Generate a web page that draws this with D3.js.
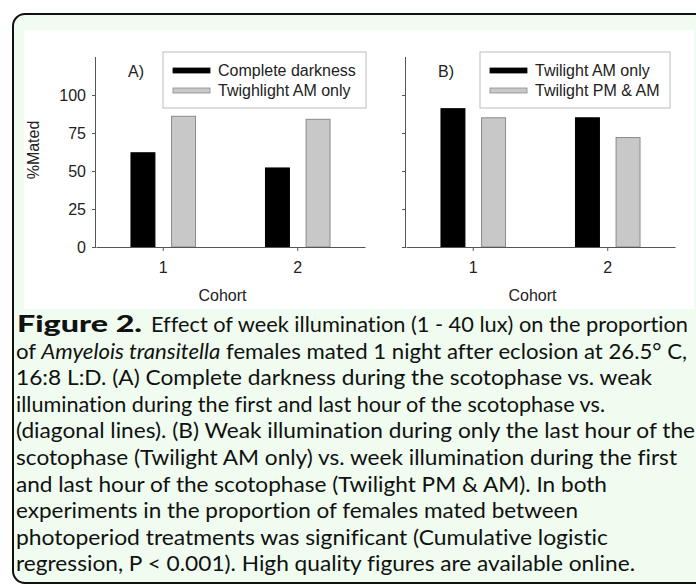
<!DOCTYPE html>
<html>
<head>
<meta charset="utf-8">
<script src="https://cdn.jsdelivr.net/npm/d3@7"></script>
<style>
  html, body { margin: 0; padding: 0; background: #fff; }
  svg { display: block; }
  .cap { font-variant-ligatures: none; }
</style>
</head>
<body>
<svg id="fig" width="696" height="585"></svg>
<script>
// cohorts on the x axis, %mated per treatment
const cohorts = ["1", "2"];
const yTicks = [0, 25, 50, 75, 100];

const seriesA = ["Complete darkness", "Twighlight AM only"];
const darkA = [62, 52];
const twilightA = [86, 84];

const seriesB = ["Twilight AM only", "Twilight PM & AM"];
const amOnlyB = [91, 85];
const pmAmB = [85, 72];

const captionLines = [
  [{ t: "Effect of week illumination (1 - 40 lux) on the proportion" }],
  [{ t: "of " }, { t: "Amyelois transitella", i: true }, { t: " females mated 1 night after eclosion at 26.5° C," }],
  [{ t: "16:8 L:D. (A) Complete darkness during the scotophase vs. weak" }],
  [{ t: "illumination during the first and last hour of the scotophase vs." }],
  [{ t: "(diagonal lines). (B) Weak illumination during only the last hour of the" }],
  [{ t: "scotophase (Twilight AM only) vs. week illumination during the first" }],
  [{ t: "and last hour of the scotophase (Twilight PM & AM). In both" }],
  [{ t: "experiments in the proportion of females mated between" }],
  [{ t: "photoperiod treatments was significant (Cumulative logistic" }],
  [{ t: "regression, P < 0.001). High quality figures are available online." }]
];
// right edge of each caption line in the original layout
const captionEnds = [688, 687, 652, 605, 695, 677, 607, 578, 608, 635];

const d3 = window.d3;
const svg = d3.select("#fig");
const chartFont = "Liberation Sans, Arial, sans-serif";

// page frame: pale green card with rounded black border, white figure area
svg.append("rect")
  .attr("x", 13).attr("y", 14).attr("width", 720).attr("height", 569)
  .attr("rx", 12)
  .attr("fill", "#effcef")
  .attr("stroke", "#111")
  .attr("stroke-width", 2);

svg.append("rect")
  .attr("x", 24).attr("y", 30).attr("width", 670).attr("height", 279)
  .attr("fill", "#fff");

const y = d3.scaleLinear().domain([0, 125]).range([247, 57]);

function drawPanel(opts) {
  const { left, right, label, series, vals, showTickLabels } = opts;
  const g = svg.append("g");

  const x0 = d3.scaleBand().domain(cohorts).range([left, right]);
  const bw = x0.bandwidth();
  const x1 = d3.scaleBand().domain([0, 1])
    .range([bw * 0.26, bw * 0.74])
    .paddingInner(0.41);

  const colors = ["#000", "#c8c8c8"];
  const strokes = ["#000", "#8a8a8a"];

  vals.forEach((arr, si) => {
    g.selectAll(null)
      .data(arr)
      .enter()
      .append("rect")
      .attr("x", (d, i) => x0(cohorts[i]) + x1(si))
      .attr("width", x1.bandwidth())
      .attr("y", d => y(d))
      .attr("height", d => y(0) - y(d))
      .attr("fill", colors[si])
      .attr("stroke", strokes[si])
      .attr("stroke-width", 1);
  });

  const ya = g.append("g")
    .attr("transform", `translate(${left},0)`)
    .call(d3.axisLeft(y).tickValues(yTicks).tickSize(4).tickPadding(6)
      .tickFormat(showTickLabels ? d3.format("d") : () => ""));
  ya.select(".domain").attr("d", `M-0.5,${y(125)}V${y(0)}`);

  g.append("g")
    .attr("transform", `translate(0,${y(0)})`)
    .call(d3.axisBottom(x0).tickSize(4).tickPadding(11).tickSizeOuter(0));

  g.selectAll(".domain").attr("stroke", "#555");
  g.selectAll(".tick line").attr("stroke", "#555");
  g.selectAll(".tick text")
    .attr("fill", "#222")
    .attr("font-family", chartFont)
    .attr("font-size", 16);

  g.append("text")
    .attr("x", (left + right) / 2 - 8).attr("y", 301)
    .attr("text-anchor", "middle")
    .attr("font-family", chartFont)
    .attr("font-size", 16).attr("fill", "#222")
    .text("Cohort");

  g.append("text")
    .attr("x", left + 32).attr("y", 77)
    .attr("font-family", chartFont)
    .attr("font-size", 16).attr("fill", "#222")
    .text(label);

  // legend
  const lg = g.append("g");
  lg.append("rect")
    .attr("x", opts.legX).attr("y", 52)
    .attr("width", opts.legW).attr("height", 56)
    .attr("fill", "#fff").attr("stroke", "#bbb");
  series.forEach((s, si) => {
    lg.append("rect")
      .attr("x", opts.legX + 10).attr("y", 68 + si * 20)
      .attr("width", 37).attr("height", 5)
      .attr("fill", colors[si]).attr("stroke", strokes[si]).attr("stroke-width", 0.8);
    lg.append("text")
      .attr("x", opts.legX + 55).attr("y", 76 + si * 20)
      .attr("font-family", chartFont)
      .attr("font-size", 16).attr("fill", "#222")
      .text(s);
  });
}

drawPanel({ left: 96, right: 365, label: "A)", series: seriesA,
  vals: [darkA, twilightA], showTickLabels: true, legX: 163, legW: 203 });
drawPanel({ left: 406, right: 675, label: "B)", series: seriesB,
  vals: [amOnlyB, pmAmB], showTickLabels: false, legX: 480, legW: 190 });

// y axis title
svg.append("text")
  .attr("transform", "translate(39,150) rotate(-90)")
  .attr("text-anchor", "middle")
  .attr("font-family", chartFont)
  .attr("font-size", 16).attr("fill", "#222")
  .text("%Mated");

// caption
const capFont = "Lato, 'Open Sans', sans-serif";
const base = 332, lh = 26.6;

svg.append("text")
  .attr("class", "cap")
  .attr("x", 17).attr("y", base)
  .attr("font-family", capFont).attr("font-size", 22).attr("font-weight", 900)
  .attr("fill", "#111")
  .attr("textLength", 125).attr("lengthAdjust", "spacingAndGlyphs")
  .text("Figure 2.");

captionLines.forEach((parts, li) => {
  const x0 = li === 0 ? 151 : 16;
  const t = svg.append("text")
    .attr("class", "cap")
    .attr("x", x0)
    .attr("y", base + li * lh)
    .attr("font-family", capFont)
    .attr("font-size", 20.5)
    .attr("fill", "#111")
    .attr("textLength", captionEnds[li] - x0)
    .attr("lengthAdjust", "spacingAndGlyphs");
  parts.forEach(p => {
    t.append("tspan")
      .attr("font-style", p.i ? "italic" : null)
      .text(p.t);
  });
});
</script>
</body>
</html>
